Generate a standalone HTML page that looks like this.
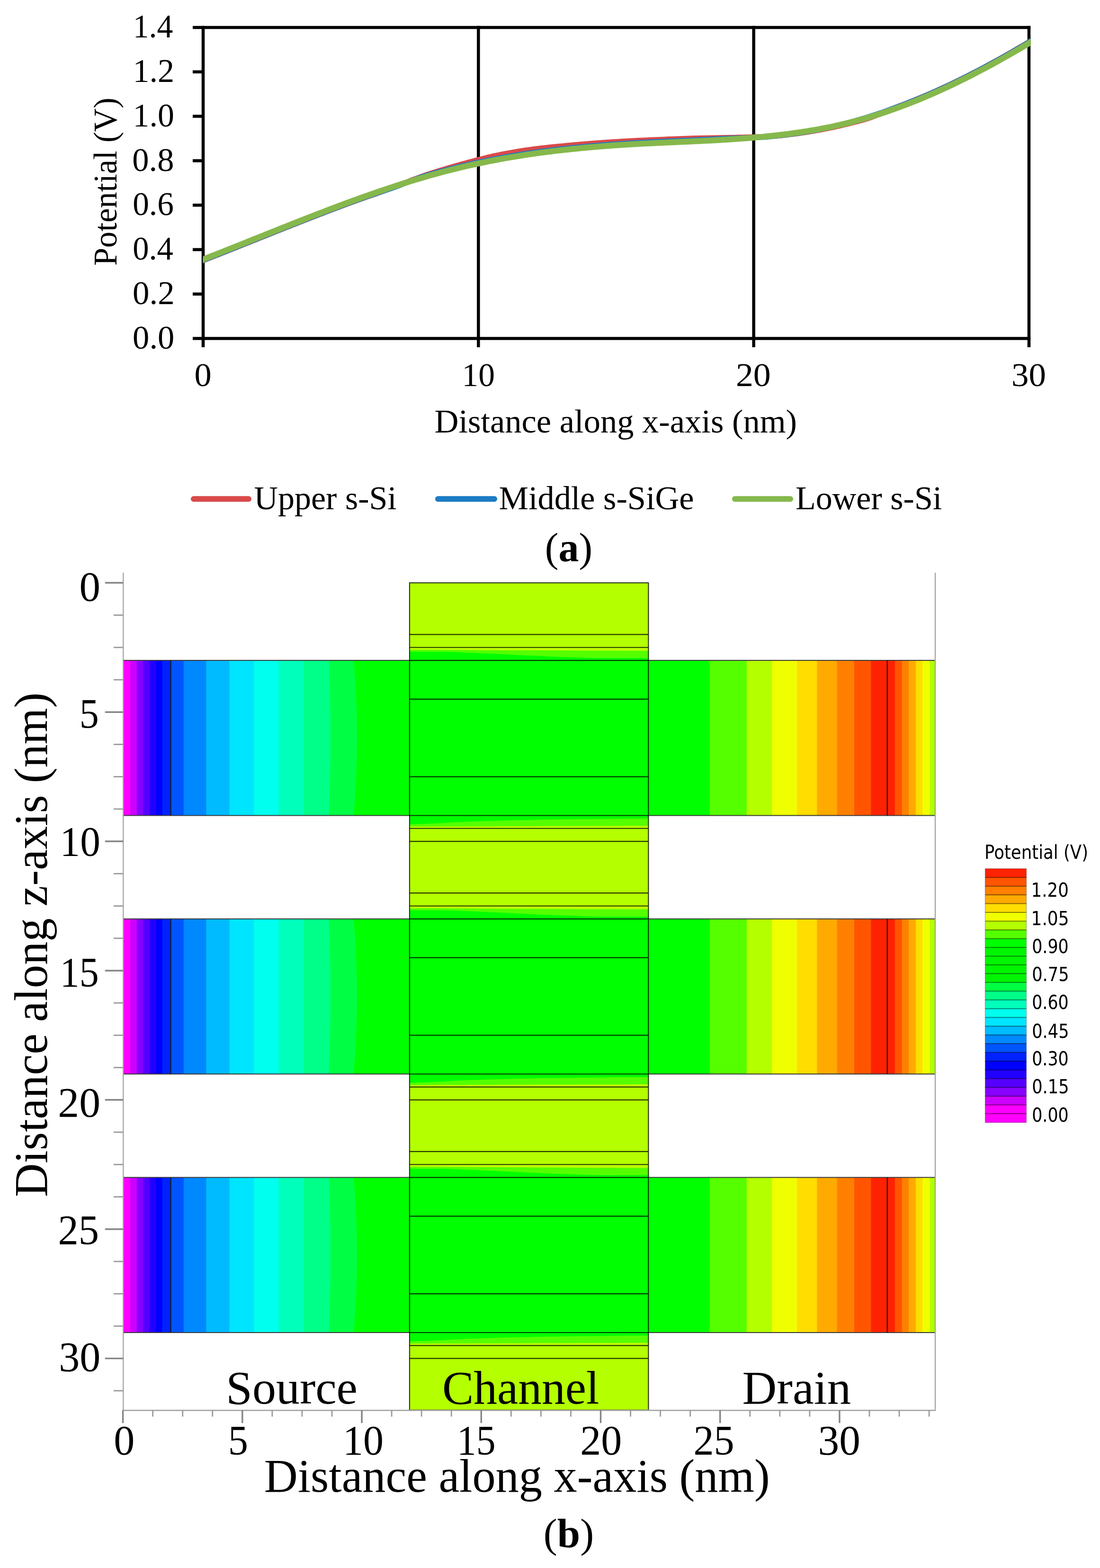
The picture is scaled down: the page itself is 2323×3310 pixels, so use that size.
<!DOCTYPE html>
<html><head><meta charset="utf-8"><title>Potential distribution</title>
<style>html,body{margin:0;padding:0;background:#fff;width:2323px;height:3310px;overflow:hidden;}svg{display:block;}</style>
</head><body>
<svg width="2323" height="3310" viewBox="0 0 2323 3310">
<rect width="2323" height="3310" fill="#fff"/>
<line x1="429" y1="54.65" x2="429" y2="733" stroke="#000" stroke-width="6.5" />
<line x1="1010.33" y1="54.65" x2="1010.33" y2="733" stroke="#000" stroke-width="6.5" />
<line x1="1591.67" y1="54.65" x2="1591.67" y2="733" stroke="#000" stroke-width="6.5" />
<line x1="2173" y1="54.65" x2="2173" y2="733" stroke="#000" stroke-width="6.5" />
<line x1="407" y1="57.9" x2="2176.25" y2="57.9" stroke="#000" stroke-width="6.5" />
<line x1="407" y1="714.5" x2="2176.25" y2="714.5" stroke="#000" stroke-width="6.5" />
<line x1="407" y1="620.7" x2="429" y2="620.7" stroke="#000" stroke-width="6.5" />
<line x1="407" y1="526.9" x2="429" y2="526.9" stroke="#000" stroke-width="6.5" />
<line x1="407" y1="433.1" x2="429" y2="433.1" stroke="#000" stroke-width="6.5" />
<line x1="407" y1="339.3" x2="429" y2="339.3" stroke="#000" stroke-width="6.5" />
<line x1="407" y1="245.5" x2="429" y2="245.5" stroke="#000" stroke-width="6.5" />
<line x1="407" y1="151.7" x2="429" y2="151.7" stroke="#000" stroke-width="6.5" />
<text x="280.11" y="735.8" font-size="69.5" font-family="'Liberation Serif', 'Times New Roman', serif" font-weight="normal" textLength="88.17" lengthAdjust="spacingAndGlyphs">0.0</text>
<text x="280.1" y="642" font-size="69.5" font-family="'Liberation Serif', 'Times New Roman', serif" font-weight="normal" textLength="88.61" lengthAdjust="spacingAndGlyphs">0.2</text>
<text x="280.19" y="548.2" font-size="69.5" font-family="'Liberation Serif', 'Times New Roman', serif" font-weight="normal" textLength="85.68" lengthAdjust="spacingAndGlyphs">0.4</text>
<text x="280.16" y="454.4" font-size="69.5" font-family="'Liberation Serif', 'Times New Roman', serif" font-weight="normal" textLength="86.71" lengthAdjust="spacingAndGlyphs">0.6</text>
<text x="279.31" y="360.6" font-size="69.5" font-family="'Liberation Serif', 'Times New Roman', serif" font-weight="normal" textLength="88.17" lengthAdjust="spacingAndGlyphs">0.8</text>
<text x="280.45" y="266.8" font-size="69.5" font-family="'Liberation Serif', 'Times New Roman', serif" font-weight="normal" textLength="87.41" lengthAdjust="spacingAndGlyphs">1.0</text>
<text x="280.44" y="173" font-size="69.5" font-family="'Liberation Serif', 'Times New Roman', serif" font-weight="normal" textLength="87.63" lengthAdjust="spacingAndGlyphs">1.2</text>
<text x="280.65" y="79.2" font-size="69.5" font-family="'Liberation Serif', 'Times New Roman', serif" font-weight="normal" textLength="84.61" lengthAdjust="spacingAndGlyphs">1.4</text>
<text x="410.54" y="815.2" font-size="69.5" font-family="'Liberation Serif', 'Times New Roman', serif" font-weight="normal" textLength="36.22" lengthAdjust="spacingAndGlyphs">0</text>
<text x="975.39" y="815.2" font-size="69.5" font-family="'Liberation Serif', 'Times New Roman', serif" font-weight="normal" textLength="69.56" lengthAdjust="spacingAndGlyphs">10</text>
<text x="1553.95" y="815.2" font-size="69.5" font-family="'Liberation Serif', 'Times New Roman', serif" font-weight="normal" textLength="73.86" lengthAdjust="spacingAndGlyphs">20</text>
<text x="2136.11" y="815.2" font-size="69.5" font-family="'Liberation Serif', 'Times New Roman', serif" font-weight="normal" textLength="72.86" lengthAdjust="spacingAndGlyphs">30</text>
<text x="917.47" y="913" font-size="70.5" font-family="'Liberation Serif', 'Times New Roman', serif" font-weight="normal" textLength="765.63" lengthAdjust="spacingAndGlyphs">Distance along x-axis (nm)</text>
<text transform="translate(246,560.97) rotate(-90)" x="0" y="0" font-size="69.5" font-family="'Liberation Serif', 'Times New Roman', serif" textLength="354.97" lengthAdjust="spacingAndGlyphs">Potential (V)</text>
<defs><clipPath id="pc"><rect x="428.5" y="0" width="1748.4" height="800"/></clipPath></defs>
<g fill="none" stroke-linejoin="round" stroke-linecap="butt" clip-path="url(#pc)">
<path d="M415,555.44 C417.17,554.6 423.5,552.16 428,550.41 C432.5,548.66 437.33,546.78 442,544.96 C446.67,543.13 451.33,541.3 456,539.46 C460.67,537.63 465.33,535.79 470,533.94 C474.67,532.1 479.33,530.25 484,528.39 C488.67,526.54 493.33,524.68 498,522.83 C502.67,520.97 507.33,519.11 512,517.24 C516.67,515.38 521.33,513.51 526,511.65 C530.67,509.78 535.33,507.91 540,506.05 C544.67,504.18 549.33,502.31 554,500.44 C558.67,498.58 563.33,496.71 568,494.85 C572.67,492.98 577.33,491.12 582,489.26 C586.67,487.39 591.33,485.53 596,483.68 C600.67,481.82 605.33,479.97 610,478.12 C614.67,476.27 619.33,474.42 624,472.58 C628.67,470.74 633.33,468.9 638,467.07 C642.67,465.24 647.33,463.42 652,461.6 C656.67,459.78 661.33,457.96 666,456.16 C670.67,454.35 675.33,452.55 680,450.76 C684.67,448.97 689.33,447.19 694,445.41 C698.67,443.64 703.33,441.87 708,440.11 C712.67,438.36 717.33,436.61 722,434.87 C726.67,433.14 731.33,431.41 736,429.69 C740.67,427.98 745.33,426.27 750,424.58 C754.67,422.89 759.33,421.21 764,419.54 C768.67,417.87 773.33,416.21 778,414.57 C782.67,412.93 787.33,411.31 792,409.69 C796.67,408.06 801.33,406.5 806,404.84 C810.67,403.17 815.33,401.45 820,399.68 C824.67,397.92 829.33,396.09 834,394.26 C838.67,392.44 843.33,390.56 848,388.71 C852.67,386.86 857.33,384.99 862,383.16 C866.67,381.33 871.33,379.5 876,377.74 C880.67,375.98 885.33,374.24 890,372.59 C894.67,370.93 899.33,369.36 904,367.81 C908.67,366.25 913.33,364.75 918,363.27 C922.67,361.78 927.33,360.34 932,358.91 C936.67,357.48 941.33,356.08 946,354.7 C950.67,353.32 955.33,351.95 960,350.61 C964.67,349.27 969.33,347.95 974,346.65 C978.67,345.36 983.33,344.09 988,342.84 C992.67,341.59 997.33,340.37 1002,339.16 C1006.67,337.95 1011.33,336.77 1016,335.59 C1020.67,334.41 1025.33,333.2 1030,332.06 C1034.67,330.93 1039.33,329.81 1044,328.79 C1048.67,327.77 1053.33,326.87 1058,325.95 C1062.67,325.04 1067.33,324.17 1072,323.31 C1076.67,322.46 1081.33,321.64 1086,320.84 C1090.67,320.05 1095.33,319.28 1100,318.55 C1104.67,317.82 1109.33,317.12 1114,316.45 C1118.67,315.79 1123.33,315.16 1128,314.55 C1132.67,313.95 1137.33,313.38 1142,312.82 C1146.67,312.27 1151.33,311.75 1156,311.24 C1160.67,310.73 1165.33,310.24 1170,309.77 C1174.67,309.29 1179.33,308.84 1184,308.39 C1188.67,307.95 1193.33,307.51 1198,307.09 C1202.67,306.66 1207.33,306.24 1212,305.82 C1216.67,305.41 1221.33,304.99 1226,304.59 C1230.67,304.18 1235.33,303.79 1240,303.41 C1244.67,303.03 1249.33,302.66 1254,302.3 C1258.67,301.94 1263.33,301.59 1268,301.25 C1272.67,300.92 1277.33,300.59 1282,300.27 C1286.67,299.96 1291.33,299.65 1296,299.36 C1300.67,299.06 1305.33,298.77 1310,298.5 C1314.67,298.22 1319.33,297.96 1324,297.71 C1328.67,297.45 1333.33,297.21 1338,296.97 C1342.67,296.73 1347.33,296.51 1352,296.29 C1356.67,296.06 1361.33,295.85 1366,295.64 C1370.67,295.42 1375.33,295.22 1380,295.02 C1384.67,294.81 1389.33,294.62 1394,294.43 C1398.67,294.23 1403.33,294.04 1408,293.86 C1412.67,293.68 1417.33,293.5 1422,293.32 C1426.67,293.14 1431.33,292.97 1436,292.8 C1440.67,292.63 1445.33,292.46 1450,292.29 C1454.67,292.13 1459.33,291.96 1464,291.81 C1468.67,291.67 1473.33,291.54 1478,291.43 C1482.67,291.31 1487.33,291.22 1492,291.13 C1496.67,291.03 1501.33,290.96 1506,290.88 C1510.67,290.81 1515.33,290.74 1520,290.66 C1524.67,290.59 1529.33,290.52 1534,290.44 C1538.67,290.36 1543.33,290.28 1548,290.19 C1552.67,290.09 1557.33,289.99 1562,289.87 C1566.67,289.75 1571.33,289.59 1576,289.45 C1580.67,289.31 1585.33,289.15 1590,289.02 C1594.67,288.88 1599.33,288.78 1604,288.64 C1608.67,288.5 1613.33,288.37 1618,288.18 C1622.67,287.99 1627.33,287.78 1632,287.49 C1636.67,287.2 1641.33,286.85 1646,286.43 C1650.67,286.01 1655.33,285.49 1660,284.97 C1664.67,284.44 1669.33,283.9 1674,283.31 C1678.67,282.72 1683.33,282.1 1688,281.44 C1692.67,280.78 1697.33,280.07 1702,279.34 C1706.67,278.6 1711.33,277.83 1716,277.03 C1720.67,276.23 1725.33,275.4 1730,274.55 C1734.67,273.69 1739.33,272.8 1744,271.88 C1748.67,270.97 1753.33,270.02 1758,269.03 C1762.67,268.05 1767.33,267.03 1772,265.98 C1776.67,264.93 1781.33,263.85 1786,262.73 C1790.67,261.61 1795.33,260.45 1800,259.26 C1804.67,258.07 1809.33,256.84 1814,255.57 C1818.67,254.3 1823.33,253.05 1828,251.65 C1832.67,250.24 1837.33,248.8 1842,247.15 C1846.67,245.49 1851.33,243.62 1856,241.73 C1860.67,239.84 1865.33,237.8 1870,235.82 C1874.67,233.83 1879.33,231.76 1884,229.82 C1888.67,227.88 1893.33,226 1898,224.18 C1902.67,222.35 1907.33,220.67 1912,218.88 C1916.67,217.08 1921.33,215.25 1926,213.39 C1930.67,211.52 1935.33,209.63 1940,207.7 C1944.67,205.77 1949.33,203.81 1954,201.82 C1958.67,199.83 1963.33,197.81 1968,195.76 C1972.67,193.71 1977.33,191.62 1982,189.51 C1986.67,187.4 1991.33,185.25 1996,183.08 C2000.67,180.91 2005.33,178.71 2010,176.48 C2014.67,174.25 2019.33,171.99 2024,169.71 C2028.67,167.43 2033.33,165.11 2038,162.77 C2042.67,160.43 2047.33,158.07 2052,155.68 C2056.67,153.28 2061.33,150.86 2066,148.42 C2070.67,145.98 2075.33,143.51 2080,141.02 C2084.67,138.52 2089.33,136 2094,133.46 C2098.67,130.92 2103.33,128.35 2108,125.76 C2112.67,123.18 2117.33,120.56 2122,117.93 C2126.67,115.29 2131.33,112.64 2136,109.96 C2140.67,107.28 2145.33,104.58 2150,101.86 C2154.67,99.14 2160.7,95.58 2164,93.63 C2167.3,91.69 2166.3,92.28 2169.8,90.19 C2173.3,88.09 2182.47,82.59 2185,81.06" stroke="#d94a4a" stroke-width="11"/>
<path d="M415,554.94 C417.17,554.1 423.5,551.66 428,549.91 C432.5,548.16 437.33,546.28 442,544.46 C446.67,542.63 451.33,540.8 456,538.96 C460.67,537.13 465.33,535.29 470,533.44 C474.67,531.6 479.33,529.75 484,527.89 C488.67,526.04 493.33,524.18 498,522.33 C502.67,520.47 507.33,518.61 512,516.74 C516.67,514.88 521.33,513.01 526,511.15 C530.67,509.28 535.33,507.41 540,505.55 C544.67,503.68 549.33,501.81 554,499.94 C558.67,498.08 563.33,496.21 568,494.35 C572.67,492.48 577.33,490.62 582,488.76 C586.67,486.89 591.33,485.03 596,483.18 C600.67,481.32 605.33,479.47 610,477.62 C614.67,475.77 619.33,473.92 624,472.08 C628.67,470.24 633.33,468.4 638,466.57 C642.67,464.74 647.33,462.92 652,461.1 C656.67,459.28 661.33,457.46 666,455.66 C670.67,453.85 675.33,452.05 680,450.26 C684.67,448.47 689.33,446.69 694,444.91 C698.67,443.14 703.33,441.37 708,439.61 C712.67,437.86 717.33,436.11 722,434.37 C726.67,432.64 731.33,430.91 736,429.19 C740.67,427.48 745.33,425.77 750,424.08 C754.67,422.39 759.33,420.71 764,419.04 C768.67,417.37 773.33,415.71 778,414.07 C782.67,412.43 787.33,410.8 792,409.19 C796.67,407.57 801.33,405.97 806,404.38 C810.67,402.8 815.33,401.24 820,399.68 C824.67,398.11 829.33,396.66 834,395.02 C838.67,393.37 843.33,391.62 848,389.81 C852.67,388 857.33,386.06 862,384.18 C866.67,382.31 871.33,380.37 876,378.57 C880.67,376.78 885.33,374.99 890,373.41 C894.67,371.83 899.33,370.46 904,369.08 C908.67,367.7 913.33,366.42 918,365.12 C922.67,363.83 927.33,362.55 932,361.3 C936.67,360.04 941.33,358.81 946,357.61 C950.67,356.4 955.33,355.21 960,354.05 C964.67,352.89 969.33,351.76 974,350.64 C978.67,349.53 983.33,348.44 988,347.37 C992.67,346.31 997.33,345.26 1002,344.24 C1006.67,343.22 1011.33,342.22 1016,341.24 C1020.67,340.26 1025.33,339.31 1030,338.37 C1034.67,337.44 1039.33,336.53 1044,335.63 C1048.67,334.74 1053.33,333.87 1058,333.02 C1062.67,332.17 1067.33,331.34 1072,330.52 C1076.67,329.71 1081.33,328.92 1086,328.15 C1090.67,327.37 1095.33,326.62 1100,325.88 C1104.67,325.15 1109.33,324.43 1114,323.73 C1118.67,323.03 1123.33,322.35 1128,321.69 C1132.67,321.02 1137.33,320.38 1142,319.75 C1146.67,319.12 1151.33,318.5 1156,317.91 C1160.67,317.31 1165.33,316.73 1170,316.16 C1174.67,315.6 1179.33,315.05 1184,314.51 C1188.67,313.98 1193.33,313.46 1198,312.96 C1202.67,312.45 1207.33,311.96 1212,311.49 C1216.67,311.01 1221.33,310.55 1226,310.1 C1230.67,309.65 1235.33,309.22 1240,308.8 C1244.67,308.37 1249.33,307.97 1254,307.57 C1258.67,307.17 1263.33,306.79 1268,306.42 C1272.67,306.04 1277.33,305.68 1282,305.33 C1286.67,304.98 1291.33,304.65 1296,304.32 C1300.67,303.99 1305.33,303.67 1310,303.37 C1314.67,303.06 1319.33,302.76 1324,302.48 C1328.67,302.19 1333.33,301.91 1338,301.64 C1342.67,301.38 1347.33,301.12 1352,300.86 C1356.67,300.61 1361.33,300.37 1366,300.13 C1370.67,299.89 1375.33,299.66 1380,299.44 C1384.67,299.21 1389.33,298.99 1394,298.77 C1398.67,298.55 1403.33,298.34 1408,298.13 C1412.67,297.92 1417.33,297.71 1422,297.5 C1426.67,297.29 1431.33,297.08 1436,296.87 C1440.67,296.66 1445.33,296.45 1450,296.24 C1454.67,296.03 1459.33,295.82 1464,295.6 C1468.67,295.38 1473.33,295.16 1478,294.93 C1482.67,294.71 1487.33,294.47 1492,294.24 C1496.67,294.01 1501.33,293.75 1506,293.52 C1510.67,293.3 1515.33,293.09 1520,292.89 C1524.67,292.69 1529.33,292.51 1534,292.33 C1538.67,292.15 1543.33,291.98 1548,291.8 C1552.67,291.62 1557.33,291.45 1562,291.26 C1566.67,291.07 1571.33,290.84 1576,290.67 C1580.67,290.51 1585.33,290.37 1590,290.26 C1594.67,290.16 1599.33,290.21 1604,290.05 C1608.67,289.89 1613.33,289.69 1618,289.32 C1622.67,288.96 1627.33,288.39 1632,287.89 C1636.67,287.38 1641.33,286.86 1646,286.31 C1650.67,285.77 1655.33,285.2 1660,284.61 C1664.67,284.02 1669.33,283.41 1674,282.77 C1678.67,282.13 1683.33,281.47 1688,280.78 C1692.67,280.09 1697.33,279.4 1702,278.63 C1706.67,277.86 1711.33,277.04 1716,276.16 C1720.67,275.28 1725.33,274.32 1730,273.34 C1734.67,272.36 1739.33,271.32 1744,270.28 C1748.67,269.23 1753.33,268.16 1758,267.07 C1762.67,265.99 1767.33,264.9 1772,263.76 C1776.67,262.63 1781.33,261.46 1786,260.26 C1790.67,259.06 1795.33,257.83 1800,256.56 C1804.67,255.29 1809.33,253.99 1814,252.64 C1818.67,251.3 1823.33,249.92 1828,248.5 C1832.67,247.08 1837.33,245.62 1842,244.12 C1846.67,242.62 1851.33,241.09 1856,239.5 C1860.67,237.92 1865.33,236.28 1870,234.62 C1874.67,232.96 1879.33,231.25 1884,229.54 C1888.67,227.83 1893.33,226.1 1898,224.36 C1902.67,222.62 1907.33,220.89 1912,219.1 C1916.67,217.31 1921.33,215.49 1926,213.64 C1930.67,211.78 1935.33,209.9 1940,207.98 C1944.67,206.06 1949.33,204.11 1954,202.12 C1958.67,200.14 1963.33,198.13 1968,196.08 C1972.67,194.04 1977.33,191.96 1982,189.85 C1986.67,187.75 1991.33,185.61 1996,183.44 C2000.67,181.28 2005.33,179.08 2010,176.86 C2014.67,174.64 2019.33,172.38 2024,170.11 C2028.67,167.83 2033.33,165.52 2038,163.18 C2042.67,160.85 2047.33,158.49 2052,156.1 C2056.67,153.71 2061.33,151.3 2066,148.86 C2070.67,146.42 2075.33,143.95 2080,141.46 C2084.67,138.97 2089.33,136.46 2094,133.92 C2098.67,131.38 2103.33,128.81 2108,126.23 C2112.67,123.64 2117.33,121.03 2122,118.4 C2126.67,115.77 2131.33,113.11 2136,110.44 C2140.67,107.76 2145.33,105.06 2150,102.34 C2154.67,99.62 2160.7,96.06 2164,94.12 C2167.3,92.17 2166.3,92.77 2169.8,90.68 C2173.3,88.58 2182.47,83.08 2185,81.56" stroke="#1b7cc4" stroke-width="11"/>
<path d="M415,552.94 C417.17,552.1 423.5,549.66 428,547.91 C432.5,546.16 437.33,544.28 442,542.46 C446.67,540.63 451.33,538.8 456,536.96 C460.67,535.13 465.33,533.29 470,531.44 C474.67,529.6 479.33,527.75 484,525.89 C488.67,524.04 493.33,522.18 498,520.33 C502.67,518.47 507.33,516.61 512,514.74 C516.67,512.88 521.33,511.01 526,509.15 C530.67,507.28 535.33,505.41 540,503.55 C544.67,501.68 549.33,499.81 554,497.94 C558.67,496.08 563.33,494.21 568,492.35 C572.67,490.48 577.33,488.62 582,486.76 C586.67,484.89 591.33,483.03 596,481.18 C600.67,479.32 605.33,477.47 610,475.62 C614.67,473.77 619.33,471.92 624,470.08 C628.67,468.24 633.33,466.4 638,464.57 C642.67,462.74 647.33,460.92 652,459.1 C656.67,457.28 661.33,455.46 666,453.66 C670.67,451.85 675.33,450.05 680,448.26 C684.67,446.47 689.33,444.69 694,442.91 C698.67,441.14 703.33,439.37 708,437.61 C712.67,435.86 717.33,434.11 722,432.37 C726.67,430.64 731.33,428.91 736,427.19 C740.67,425.48 745.33,423.77 750,422.08 C754.67,420.39 759.33,418.71 764,417.04 C768.67,415.37 773.33,413.71 778,412.07 C782.67,410.43 787.33,408.8 792,407.19 C796.67,405.57 801.33,403.97 806,402.38 C810.67,400.8 815.33,399.23 820,397.68 C824.67,396.12 829.33,394.58 834,393.06 C838.67,391.54 843.33,390.03 848,388.55 C852.67,387.06 857.33,385.59 862,384.14 C866.67,382.69 871.33,381.25 876,379.84 C880.67,378.42 885.33,377.03 890,375.65 C894.67,374.28 899.33,372.92 904,371.59 C908.67,370.25 913.33,368.94 918,367.64 C922.67,366.35 927.33,365.08 932,363.83 C936.67,362.58 941.33,361.36 946,360.15 C950.67,358.95 955.33,357.77 960,356.61 C964.67,355.46 969.33,354.33 974,353.22 C978.67,352.11 983.33,351.02 988,349.96 C992.67,348.9 997.33,347.86 1002,346.84 C1006.67,345.82 1011.33,344.82 1016,343.85 C1020.67,342.88 1025.33,341.93 1030,340.99 C1034.67,340.06 1039.33,339.15 1044,338.26 C1048.67,337.37 1053.33,336.51 1058,335.66 C1062.67,334.81 1067.33,333.98 1072,333.17 C1076.67,332.36 1081.33,331.57 1086,330.8 C1090.67,330.03 1095.33,329.28 1100,328.55 C1104.67,327.81 1109.33,327.1 1114,326.4 C1118.67,325.71 1123.33,325.03 1128,324.37 C1132.67,323.7 1137.33,323.06 1142,322.43 C1146.67,321.8 1151.33,321.19 1156,320.6 C1160.67,320 1165.33,319.42 1170,318.86 C1174.67,318.3 1179.33,317.75 1184,317.22 C1188.67,316.69 1193.33,316.17 1198,315.67 C1202.67,315.16 1207.33,314.67 1212,314.2 C1216.67,313.73 1221.33,313.27 1226,312.82 C1230.67,312.37 1235.33,311.94 1240,311.52 C1244.67,311.1 1249.33,310.69 1254,310.29 C1258.67,309.9 1263.33,309.52 1268,309.14 C1272.67,308.77 1277.33,308.41 1282,308.06 C1286.67,307.72 1291.33,307.38 1296,307.05 C1300.67,306.72 1305.33,306.41 1310,306.1 C1314.67,305.8 1319.33,305.5 1324,305.22 C1328.67,304.93 1333.33,304.65 1338,304.38 C1342.67,304.12 1347.33,303.86 1352,303.61 C1356.67,303.36 1361.33,303.11 1366,302.88 C1370.67,302.64 1375.33,302.41 1380,302.18 C1384.67,301.96 1389.33,301.74 1394,301.52 C1398.67,301.3 1403.33,301.09 1408,300.88 C1412.67,300.66 1417.33,300.46 1422,300.25 C1426.67,300.04 1431.33,299.83 1436,299.62 C1440.67,299.41 1445.33,299.2 1450,298.99 C1454.67,298.78 1459.33,298.57 1464,298.35 C1468.67,298.13 1473.33,297.91 1478,297.68 C1482.67,297.46 1487.33,297.23 1492,296.99 C1496.67,296.75 1501.33,296.51 1506,296.26 C1510.67,296.01 1515.33,295.75 1520,295.48 C1524.67,295.21 1529.33,294.94 1534,294.65 C1538.67,294.36 1543.33,294.06 1548,293.75 C1552.67,293.44 1557.33,293.12 1562,292.79 C1566.67,292.45 1571.33,292.1 1576,291.74 C1580.67,291.38 1585.33,291 1590,290.61 C1594.67,290.21 1599.33,289.8 1604,289.37 C1608.67,288.95 1613.33,288.5 1618,288.04 C1622.67,287.57 1627.33,287.09 1632,286.59 C1636.67,286.08 1641.33,285.56 1646,285.01 C1650.67,284.47 1655.33,283.9 1660,283.31 C1664.67,282.72 1669.33,282.11 1674,281.47 C1678.67,280.83 1683.33,280.17 1688,279.48 C1692.67,278.79 1697.33,278.08 1702,277.34 C1706.67,276.59 1711.33,275.83 1716,275.03 C1720.67,274.23 1725.33,273.4 1730,272.55 C1734.67,271.69 1739.33,270.8 1744,269.88 C1748.67,268.97 1753.33,268.02 1758,267.03 C1762.67,266.05 1767.33,265.03 1772,263.98 C1776.67,262.93 1781.33,261.85 1786,260.73 C1790.67,259.61 1795.33,258.45 1800,257.26 C1804.67,256.07 1809.33,254.84 1814,253.57 C1818.67,252.3 1823.33,250.99 1828,249.65 C1832.67,248.3 1837.33,246.91 1842,245.49 C1846.67,244.07 1851.33,242.61 1856,241.11 C1860.67,239.61 1865.33,238.08 1870,236.51 C1874.67,234.94 1879.33,233.33 1884,231.69 C1888.67,230.05 1893.33,228.37 1898,226.66 C1902.67,224.95 1907.33,223.2 1912,221.42 C1916.67,219.64 1921.33,217.82 1926,215.97 C1930.67,214.13 1935.33,212.24 1940,210.33 C1944.67,208.42 1949.33,206.47 1954,204.49 C1958.67,202.51 1963.33,200.5 1968,198.46 C1972.67,196.42 1977.33,194.35 1982,192.25 C1986.67,190.15 1991.33,188.02 1996,185.85 C2000.67,183.69 2005.33,181.5 2010,179.28 C2014.67,177.06 2019.33,174.81 2024,172.54 C2028.67,170.26 2033.33,167.96 2038,165.62 C2042.67,163.29 2047.33,160.93 2052,158.55 C2056.67,156.16 2061.33,153.75 2066,151.32 C2070.67,148.88 2075.33,146.41 2080,143.93 C2084.67,141.44 2089.33,138.93 2094,136.39 C2098.67,133.85 2103.33,131.29 2108,128.71 C2112.67,126.12 2117.33,123.51 2122,120.88 C2126.67,118.25 2131.33,115.6 2136,112.92 C2140.67,110.25 2145.33,107.55 2150,104.83 C2154.67,102.11 2160.7,98.55 2164,96.61 C2167.3,94.67 2166.3,95.26 2169.8,93.17 C2173.3,91.08 2182.47,85.57 2185,84.05" stroke="#86b84c" stroke-width="12.5"/>
</g>
<g stroke-linecap="round">
<line x1="409" y1="1053.3" x2="525" y2="1053.3" stroke="#d94a4a" stroke-width="12" />
<line x1="925" y1="1053.3" x2="1044" y2="1053.3" stroke="#1b7cc4" stroke-width="12" />
<line x1="1552" y1="1053.3" x2="1669" y2="1053.3" stroke="#86b84c" stroke-width="12" />
</g>
<text x="536.53" y="1074.5" font-size="69.5" font-family="'Liberation Serif', 'Times New Roman', serif" font-weight="normal" textLength="301.3" lengthAdjust="spacingAndGlyphs">Upper s-Si</text>
<text x="1053.48" y="1074.5" font-size="69.5" font-family="'Liberation Serif', 'Times New Roman', serif" font-weight="normal" textLength="411.96" lengthAdjust="spacingAndGlyphs">Middle s-SiGe</text>
<text x="1679.98" y="1074.5" font-size="69.5" font-family="'Liberation Serif', 'Times New Roman', serif" font-weight="normal" textLength="309.35" lengthAdjust="spacingAndGlyphs">Lower s-Si</text>
<text x="1201" y="1185" font-size="86" text-anchor="middle" font-family="'Liberation Serif', 'Times New Roman', serif">(<tspan font-weight="bold">a</tspan>)</text>
<rect x="260" y="1394.03" width="605.6" height="327.46" fill="#00ff00" />
<path d="M260,1394.03 L747,1394.03 Q761,1557.76 747,1721.48 L260,1721.48 Z" fill="#00ff44"/>
<path d="M260,1394.03 L694.6,1394.03 Q701.6,1557.76 694.6,1721.48 L260,1721.48 Z" fill="#00ff88"/>
<rect x="260" y="1394.03" width="382" height="327.46" fill="#00ffbb" />
<rect x="260" y="1394.03" width="328.6" height="327.46" fill="#00ffee" />
<rect x="260" y="1394.03" width="276.3" height="327.46" fill="#00e5ff" />
<rect x="260" y="1394.03" width="224.6" height="327.46" fill="#00bbff" />
<rect x="260" y="1394.03" width="175.4" height="327.46" fill="#0088ff" />
<rect x="260" y="1394.03" width="127.8" height="327.46" fill="#0055ff" />
<rect x="260" y="1394.03" width="101.3" height="327.46" fill="#0022ff" />
<rect x="260" y="1394.03" width="82.6" height="327.46" fill="#0000ff" />
<rect x="260" y="1394.03" width="68.5" height="327.46" fill="#2200ff" />
<rect x="260" y="1394.03" width="55.2" height="327.46" fill="#5500ff" />
<rect x="260" y="1394.03" width="41.8" height="327.46" fill="#8800ff" />
<rect x="260" y="1394.03" width="28.9" height="327.46" fill="#cc00ff" />
<rect x="260" y="1394.03" width="14.8" height="327.46" fill="#ff00ff" />
<rect x="1369" y="1394.03" width="130.1" height="327.46" fill="#00ff00" />
<rect x="1498.5" y="1394.03" width="78.8" height="327.46" fill="#55ff00" />
<rect x="1576.7" y="1394.03" width="54.3" height="327.46" fill="#b4ff00" />
<rect x="1630.4" y="1394.03" width="53.1" height="327.46" fill="#f0ff00" />
<rect x="1682.9" y="1394.03" width="42.9" height="327.46" fill="#ffdd00" />
<rect x="1725.2" y="1394.03" width="43" height="327.46" fill="#ffaa00" />
<rect x="1767.6" y="1394.03" width="36.9" height="327.46" fill="#ff8000" />
<rect x="1803.9" y="1394.03" width="36.1" height="327.46" fill="#ff5500" />
<rect x="1839.4" y="1394.03" width="35.7" height="327.46" fill="#ff2200" />
<rect x="1874.5" y="1394.03" width="15.9" height="327.46" fill="#ff2200" />
<rect x="1889.8" y="1394.03" width="15.6" height="327.46" fill="#ff5500" />
<rect x="1904.8" y="1394.03" width="14.7" height="327.46" fill="#ff8000" />
<rect x="1918.9" y="1394.03" width="15.5" height="327.46" fill="#ffaa00" />
<rect x="1933.8" y="1394.03" width="14.8" height="327.46" fill="#ffdd00" />
<rect x="1948" y="1394.03" width="15.9" height="327.46" fill="#f0ff00" />
<rect x="1963.3" y="1394.03" width="12.7" height="327.46" fill="#b4ff00" />
<rect x="260" y="1939.79" width="605.6" height="327.46" fill="#00ff00" />
<path d="M260,1939.79 L747,1939.79 Q761,2103.52 747,2267.24 L260,2267.24 Z" fill="#00ff44"/>
<path d="M260,1939.79 L694.6,1939.79 Q701.6,2103.52 694.6,2267.24 L260,2267.24 Z" fill="#00ff88"/>
<rect x="260" y="1939.79" width="382" height="327.46" fill="#00ffbb" />
<rect x="260" y="1939.79" width="328.6" height="327.46" fill="#00ffee" />
<rect x="260" y="1939.79" width="276.3" height="327.46" fill="#00e5ff" />
<rect x="260" y="1939.79" width="224.6" height="327.46" fill="#00bbff" />
<rect x="260" y="1939.79" width="175.4" height="327.46" fill="#0088ff" />
<rect x="260" y="1939.79" width="127.8" height="327.46" fill="#0055ff" />
<rect x="260" y="1939.79" width="101.3" height="327.46" fill="#0022ff" />
<rect x="260" y="1939.79" width="82.6" height="327.46" fill="#0000ff" />
<rect x="260" y="1939.79" width="68.5" height="327.46" fill="#2200ff" />
<rect x="260" y="1939.79" width="55.2" height="327.46" fill="#5500ff" />
<rect x="260" y="1939.79" width="41.8" height="327.46" fill="#8800ff" />
<rect x="260" y="1939.79" width="28.9" height="327.46" fill="#cc00ff" />
<rect x="260" y="1939.79" width="14.8" height="327.46" fill="#ff00ff" />
<rect x="1369" y="1939.79" width="130.1" height="327.46" fill="#00ff00" />
<rect x="1498.5" y="1939.79" width="78.8" height="327.46" fill="#55ff00" />
<rect x="1576.7" y="1939.79" width="54.3" height="327.46" fill="#b4ff00" />
<rect x="1630.4" y="1939.79" width="53.1" height="327.46" fill="#f0ff00" />
<rect x="1682.9" y="1939.79" width="42.9" height="327.46" fill="#ffdd00" />
<rect x="1725.2" y="1939.79" width="43" height="327.46" fill="#ffaa00" />
<rect x="1767.6" y="1939.79" width="36.9" height="327.46" fill="#ff8000" />
<rect x="1803.9" y="1939.79" width="36.1" height="327.46" fill="#ff5500" />
<rect x="1839.4" y="1939.79" width="35.7" height="327.46" fill="#ff2200" />
<rect x="1874.5" y="1939.79" width="15.9" height="327.46" fill="#ff2200" />
<rect x="1889.8" y="1939.79" width="15.6" height="327.46" fill="#ff5500" />
<rect x="1904.8" y="1939.79" width="14.7" height="327.46" fill="#ff8000" />
<rect x="1918.9" y="1939.79" width="15.5" height="327.46" fill="#ffaa00" />
<rect x="1933.8" y="1939.79" width="14.8" height="327.46" fill="#ffdd00" />
<rect x="1948" y="1939.79" width="15.9" height="327.46" fill="#f0ff00" />
<rect x="1963.3" y="1939.79" width="12.7" height="327.46" fill="#b4ff00" />
<rect x="260" y="2485.55" width="605.6" height="327.46" fill="#00ff00" />
<path d="M260,2485.55 L747,2485.55 Q761,2649.28 747,2813 L260,2813 Z" fill="#00ff44"/>
<path d="M260,2485.55 L694.6,2485.55 Q701.6,2649.28 694.6,2813 L260,2813 Z" fill="#00ff88"/>
<rect x="260" y="2485.55" width="382" height="327.46" fill="#00ffbb" />
<rect x="260" y="2485.55" width="328.6" height="327.46" fill="#00ffee" />
<rect x="260" y="2485.55" width="276.3" height="327.46" fill="#00e5ff" />
<rect x="260" y="2485.55" width="224.6" height="327.46" fill="#00bbff" />
<rect x="260" y="2485.55" width="175.4" height="327.46" fill="#0088ff" />
<rect x="260" y="2485.55" width="127.8" height="327.46" fill="#0055ff" />
<rect x="260" y="2485.55" width="101.3" height="327.46" fill="#0022ff" />
<rect x="260" y="2485.55" width="82.6" height="327.46" fill="#0000ff" />
<rect x="260" y="2485.55" width="68.5" height="327.46" fill="#2200ff" />
<rect x="260" y="2485.55" width="55.2" height="327.46" fill="#5500ff" />
<rect x="260" y="2485.55" width="41.8" height="327.46" fill="#8800ff" />
<rect x="260" y="2485.55" width="28.9" height="327.46" fill="#cc00ff" />
<rect x="260" y="2485.55" width="14.8" height="327.46" fill="#ff00ff" />
<rect x="1369" y="2485.55" width="130.1" height="327.46" fill="#00ff00" />
<rect x="1498.5" y="2485.55" width="78.8" height="327.46" fill="#55ff00" />
<rect x="1576.7" y="2485.55" width="54.3" height="327.46" fill="#b4ff00" />
<rect x="1630.4" y="2485.55" width="53.1" height="327.46" fill="#f0ff00" />
<rect x="1682.9" y="2485.55" width="42.9" height="327.46" fill="#ffdd00" />
<rect x="1725.2" y="2485.55" width="43" height="327.46" fill="#ffaa00" />
<rect x="1767.6" y="2485.55" width="36.9" height="327.46" fill="#ff8000" />
<rect x="1803.9" y="2485.55" width="36.1" height="327.46" fill="#ff5500" />
<rect x="1839.4" y="2485.55" width="35.7" height="327.46" fill="#ff2200" />
<rect x="1874.5" y="2485.55" width="15.9" height="327.46" fill="#ff2200" />
<rect x="1889.8" y="2485.55" width="15.6" height="327.46" fill="#ff5500" />
<rect x="1904.8" y="2485.55" width="14.7" height="327.46" fill="#ff8000" />
<rect x="1918.9" y="2485.55" width="15.5" height="327.46" fill="#ffaa00" />
<rect x="1933.8" y="2485.55" width="14.8" height="327.46" fill="#ffdd00" />
<rect x="1948" y="2485.55" width="15.9" height="327.46" fill="#f0ff00" />
<rect x="1963.3" y="2485.55" width="12.7" height="327.46" fill="#b4ff00" />
<rect x="864.94" y="1230.3" width="504.45" height="1746.43" fill="#b4ff00" />
<rect x="864.94" y="1394.03" width="504.45" height="327.46" fill="#00ff00" />
<rect x="864.94" y="1366.74" width="504.45" height="27.29" fill="#00ff00" />
<path d="M864.94,1366.74 L1369.39,1366.74 L1369.39,1389.23 L1264.94,1389.23 C1124.94,1386.03 1024.94,1378.03 934.94,1375.63 L864.94,1375.63 Z" fill="#55ff00"/>
<path d="M864.94,1366.74 L1369.39,1366.74 L1369.39,1373.74 C1164.94,1373.24 984.94,1372.24 864.94,1371.74 Z" fill="#bfff00"/>
<rect x="864.94" y="1721.48" width="504.45" height="27.29" fill="#00ff00" />
<path d="M864.94,1748.77 L1369.39,1748.77 L1369.39,1727.98 C1194.94,1728.98 1064.94,1730.98 964.94,1735.48 C924.94,1737.98 894.94,1739.48 864.94,1739.98 Z" fill="#55ff00"/>
<path d="M864.94,1748.77 L1369.39,1748.77 L1369.39,1743.27 C1164.94,1743.77 984.94,1744.27 864.94,1744.77 Z" fill="#bfff00"/>
<rect x="864.94" y="1939.79" width="504.45" height="327.46" fill="#00ff00" />
<rect x="864.94" y="1912.5" width="504.45" height="27.29" fill="#00ff00" />
<path d="M864.94,1912.5 L1369.39,1912.5 L1369.39,1934.99 L1264.94,1934.99 C1124.94,1931.79 1024.94,1923.79 934.94,1921.39 L864.94,1921.39 Z" fill="#55ff00"/>
<path d="M864.94,1912.5 L1369.39,1912.5 L1369.39,1919.5 C1164.94,1919 984.94,1918 864.94,1917.5 Z" fill="#bfff00"/>
<rect x="864.94" y="2267.24" width="504.45" height="27.29" fill="#00ff00" />
<path d="M864.94,2294.53 L1369.39,2294.53 L1369.39,2273.74 C1194.94,2274.74 1064.94,2276.74 964.94,2281.24 C924.94,2283.74 894.94,2285.24 864.94,2285.74 Z" fill="#55ff00"/>
<path d="M864.94,2294.53 L1369.39,2294.53 L1369.39,2289.03 C1164.94,2289.53 984.94,2290.03 864.94,2290.53 Z" fill="#bfff00"/>
<rect x="864.94" y="2485.55" width="504.45" height="327.46" fill="#00ff00" />
<rect x="864.94" y="2458.26" width="504.45" height="27.29" fill="#00ff00" />
<path d="M864.94,2458.26 L1369.39,2458.26 L1369.39,2480.75 L1264.94,2480.75 C1124.94,2477.55 1024.94,2469.55 934.94,2467.15 L864.94,2467.15 Z" fill="#55ff00"/>
<path d="M864.94,2458.26 L1369.39,2458.26 L1369.39,2465.26 C1164.94,2464.76 984.94,2463.76 864.94,2463.26 Z" fill="#bfff00"/>
<rect x="864.94" y="2813" width="504.45" height="27.29" fill="#00ff00" />
<path d="M864.94,2840.29 L1369.39,2840.29 L1369.39,2819.5 C1194.94,2820.5 1064.94,2822.5 964.94,2827 C924.94,2829.5 894.94,2831 864.94,2831.5 Z" fill="#55ff00"/>
<path d="M864.94,2840.29 L1369.39,2840.29 L1369.39,2834.79 C1164.94,2835.29 984.94,2835.79 864.94,2836.29 Z" fill="#bfff00"/>
<line x1="864.94" y1="1339.45" x2="1369.39" y2="1339.45" stroke="rgba(0,0,0,0.78)" stroke-width="2.2" />
<line x1="864.94" y1="1366.74" x2="1369.39" y2="1366.74" stroke="rgba(0,0,0,0.78)" stroke-width="2.2" />
<line x1="864.94" y1="1394.03" x2="1369.39" y2="1394.03" stroke="rgba(0,0,0,0.78)" stroke-width="2.2" />
<line x1="864.94" y1="1475.89" x2="1369.39" y2="1475.89" stroke="rgba(0,0,0,0.78)" stroke-width="2.2" />
<line x1="864.94" y1="1639.62" x2="1369.39" y2="1639.62" stroke="rgba(0,0,0,0.78)" stroke-width="2.2" />
<line x1="864.94" y1="1721.48" x2="1369.39" y2="1721.48" stroke="rgba(0,0,0,0.78)" stroke-width="2.2" />
<line x1="864.94" y1="1748.77" x2="1369.39" y2="1748.77" stroke="rgba(0,0,0,0.78)" stroke-width="2.2" />
<line x1="864.94" y1="1776.06" x2="1369.39" y2="1776.06" stroke="rgba(0,0,0,0.78)" stroke-width="2.2" />
<line x1="864.94" y1="1885.21" x2="1369.39" y2="1885.21" stroke="rgba(0,0,0,0.78)" stroke-width="2.2" />
<line x1="864.94" y1="1912.5" x2="1369.39" y2="1912.5" stroke="rgba(0,0,0,0.78)" stroke-width="2.2" />
<line x1="864.94" y1="1939.79" x2="1369.39" y2="1939.79" stroke="rgba(0,0,0,0.78)" stroke-width="2.2" />
<line x1="864.94" y1="2021.65" x2="1369.39" y2="2021.65" stroke="rgba(0,0,0,0.78)" stroke-width="2.2" />
<line x1="864.94" y1="2185.38" x2="1369.39" y2="2185.38" stroke="rgba(0,0,0,0.78)" stroke-width="2.2" />
<line x1="864.94" y1="2267.24" x2="1369.39" y2="2267.24" stroke="rgba(0,0,0,0.78)" stroke-width="2.2" />
<line x1="864.94" y1="2294.53" x2="1369.39" y2="2294.53" stroke="rgba(0,0,0,0.78)" stroke-width="2.2" />
<line x1="864.94" y1="2321.82" x2="1369.39" y2="2321.82" stroke="rgba(0,0,0,0.78)" stroke-width="2.2" />
<line x1="864.94" y1="2430.97" x2="1369.39" y2="2430.97" stroke="rgba(0,0,0,0.78)" stroke-width="2.2" />
<line x1="864.94" y1="2458.26" x2="1369.39" y2="2458.26" stroke="rgba(0,0,0,0.78)" stroke-width="2.2" />
<line x1="864.94" y1="2485.55" x2="1369.39" y2="2485.55" stroke="rgba(0,0,0,0.78)" stroke-width="2.2" />
<line x1="864.94" y1="2567.41" x2="1369.39" y2="2567.41" stroke="rgba(0,0,0,0.78)" stroke-width="2.2" />
<line x1="864.94" y1="2731.14" x2="1369.39" y2="2731.14" stroke="rgba(0,0,0,0.78)" stroke-width="2.2" />
<line x1="864.94" y1="2813" x2="1369.39" y2="2813" stroke="rgba(0,0,0,0.78)" stroke-width="2.2" />
<line x1="864.94" y1="2840.29" x2="1369.39" y2="2840.29" stroke="rgba(0,0,0,0.78)" stroke-width="2.2" />
<line x1="864.94" y1="2867.58" x2="1369.39" y2="2867.58" stroke="rgba(0,0,0,0.78)" stroke-width="2.2" />
<line x1="259.6" y1="1394.03" x2="864.94" y2="1394.03" stroke="#3a3a3a" stroke-width="2" />
<line x1="1369.39" y1="1394.03" x2="1974.73" y2="1394.03" stroke="#3a3a3a" stroke-width="2" />
<line x1="259.6" y1="1721.48" x2="864.94" y2="1721.48" stroke="#3a3a3a" stroke-width="2" />
<line x1="1369.39" y1="1721.48" x2="1974.73" y2="1721.48" stroke="#3a3a3a" stroke-width="2" />
<line x1="360.49" y1="1394.03" x2="360.49" y2="1721.48" stroke="#102040" stroke-width="2.6" />
<line x1="1873.84" y1="1394.03" x2="1873.84" y2="1721.48" stroke="#401010" stroke-width="2.6" />
<line x1="259.6" y1="1939.79" x2="864.94" y2="1939.79" stroke="#3a3a3a" stroke-width="2" />
<line x1="1369.39" y1="1939.79" x2="1974.73" y2="1939.79" stroke="#3a3a3a" stroke-width="2" />
<line x1="259.6" y1="2267.24" x2="864.94" y2="2267.24" stroke="#3a3a3a" stroke-width="2" />
<line x1="1369.39" y1="2267.24" x2="1974.73" y2="2267.24" stroke="#3a3a3a" stroke-width="2" />
<line x1="360.49" y1="1939.79" x2="360.49" y2="2267.24" stroke="#102040" stroke-width="2.6" />
<line x1="1873.84" y1="1939.79" x2="1873.84" y2="2267.24" stroke="#401010" stroke-width="2.6" />
<line x1="259.6" y1="2485.55" x2="864.94" y2="2485.55" stroke="#3a3a3a" stroke-width="2" />
<line x1="1369.39" y1="2485.55" x2="1974.73" y2="2485.55" stroke="#3a3a3a" stroke-width="2" />
<line x1="259.6" y1="2813" x2="864.94" y2="2813" stroke="#3a3a3a" stroke-width="2" />
<line x1="1369.39" y1="2813" x2="1974.73" y2="2813" stroke="#3a3a3a" stroke-width="2" />
<line x1="360.49" y1="2485.55" x2="360.49" y2="2813" stroke="#102040" stroke-width="2.6" />
<line x1="1873.84" y1="2485.55" x2="1873.84" y2="2813" stroke="#401010" stroke-width="2.6" />
<rect x="864.94" y="1230.3" width="504.45" height="1746.43" fill="none" stroke="rgba(0,0,0,0.78)" stroke-width="2.2"/>
<line x1="260.3" y1="1209" x2="260.3" y2="2978" stroke="#a0a0a0" stroke-width="2.2" />
<line x1="1975" y1="1209" x2="1975" y2="2978" stroke="#a0a0a0" stroke-width="2.2" />
<line x1="259" y1="2977.3" x2="1976" y2="2977.3" stroke="#a0a0a0" stroke-width="2.6" />
<line x1="221.8" y1="1230.3" x2="260" y2="1230.3" stroke="#858585" stroke-width="3.4" />
<line x1="240" y1="1298.52" x2="260" y2="1298.52" stroke="#9a9a9a" stroke-width="2.8" />
<line x1="240" y1="1366.74" x2="260" y2="1366.74" stroke="#9a9a9a" stroke-width="2.8" />
<line x1="240" y1="1434.96" x2="260" y2="1434.96" stroke="#9a9a9a" stroke-width="2.8" />
<line x1="221.8" y1="1503.18" x2="260" y2="1503.18" stroke="#858585" stroke-width="3.4" />
<line x1="240" y1="1571.4" x2="260" y2="1571.4" stroke="#9a9a9a" stroke-width="2.8" />
<line x1="240" y1="1639.62" x2="260" y2="1639.62" stroke="#9a9a9a" stroke-width="2.8" />
<line x1="240" y1="1707.84" x2="260" y2="1707.84" stroke="#9a9a9a" stroke-width="2.8" />
<line x1="221.8" y1="1776.06" x2="260" y2="1776.06" stroke="#858585" stroke-width="3.4" />
<line x1="240" y1="1844.28" x2="260" y2="1844.28" stroke="#9a9a9a" stroke-width="2.8" />
<line x1="240" y1="1912.5" x2="260" y2="1912.5" stroke="#9a9a9a" stroke-width="2.8" />
<line x1="240" y1="1980.72" x2="260" y2="1980.72" stroke="#9a9a9a" stroke-width="2.8" />
<line x1="221.8" y1="2048.94" x2="260" y2="2048.94" stroke="#858585" stroke-width="3.4" />
<line x1="240" y1="2117.16" x2="260" y2="2117.16" stroke="#9a9a9a" stroke-width="2.8" />
<line x1="240" y1="2185.38" x2="260" y2="2185.38" stroke="#9a9a9a" stroke-width="2.8" />
<line x1="240" y1="2253.6" x2="260" y2="2253.6" stroke="#9a9a9a" stroke-width="2.8" />
<line x1="221.8" y1="2321.82" x2="260" y2="2321.82" stroke="#858585" stroke-width="3.4" />
<line x1="240" y1="2390.04" x2="260" y2="2390.04" stroke="#9a9a9a" stroke-width="2.8" />
<line x1="240" y1="2458.26" x2="260" y2="2458.26" stroke="#9a9a9a" stroke-width="2.8" />
<line x1="240" y1="2526.48" x2="260" y2="2526.48" stroke="#9a9a9a" stroke-width="2.8" />
<line x1="221.8" y1="2594.7" x2="260" y2="2594.7" stroke="#858585" stroke-width="3.4" />
<line x1="240" y1="2662.92" x2="260" y2="2662.92" stroke="#9a9a9a" stroke-width="2.8" />
<line x1="240" y1="2731.14" x2="260" y2="2731.14" stroke="#9a9a9a" stroke-width="2.8" />
<line x1="240" y1="2799.36" x2="260" y2="2799.36" stroke="#9a9a9a" stroke-width="2.8" />
<line x1="221.8" y1="2867.58" x2="260" y2="2867.58" stroke="#858585" stroke-width="3.4" />
<line x1="240" y1="2935.8" x2="260" y2="2935.8" stroke="#9a9a9a" stroke-width="2.8" />
<line x1="259.6" y1="2977" x2="259.6" y2="3004" stroke="#858585" stroke-width="3.4" />
<line x1="322.66" y1="2977" x2="322.66" y2="2990.5" stroke="#9a9a9a" stroke-width="2.8" />
<line x1="385.71" y1="2977" x2="385.71" y2="2990.5" stroke="#9a9a9a" stroke-width="2.8" />
<line x1="448.77" y1="2977" x2="448.77" y2="2990.5" stroke="#9a9a9a" stroke-width="2.8" />
<line x1="511.83" y1="2977" x2="511.83" y2="3004" stroke="#858585" stroke-width="3.4" />
<line x1="574.88" y1="2977" x2="574.88" y2="2990.5" stroke="#9a9a9a" stroke-width="2.8" />
<line x1="637.94" y1="2977" x2="637.94" y2="2990.5" stroke="#9a9a9a" stroke-width="2.8" />
<line x1="700.99" y1="2977" x2="700.99" y2="2990.5" stroke="#9a9a9a" stroke-width="2.8" />
<line x1="764.05" y1="2977" x2="764.05" y2="3004" stroke="#858585" stroke-width="3.4" />
<line x1="827.11" y1="2977" x2="827.11" y2="2990.5" stroke="#9a9a9a" stroke-width="2.8" />
<line x1="890.16" y1="2977" x2="890.16" y2="2990.5" stroke="#9a9a9a" stroke-width="2.8" />
<line x1="953.22" y1="2977" x2="953.22" y2="2990.5" stroke="#9a9a9a" stroke-width="2.8" />
<line x1="1016.27" y1="2977" x2="1016.27" y2="3004" stroke="#858585" stroke-width="3.4" />
<line x1="1079.33" y1="2977" x2="1079.33" y2="2990.5" stroke="#9a9a9a" stroke-width="2.8" />
<line x1="1142.39" y1="2977" x2="1142.39" y2="2990.5" stroke="#9a9a9a" stroke-width="2.8" />
<line x1="1205.44" y1="2977" x2="1205.44" y2="2990.5" stroke="#9a9a9a" stroke-width="2.8" />
<line x1="1268.5" y1="2977" x2="1268.5" y2="3004" stroke="#858585" stroke-width="3.4" />
<line x1="1331.56" y1="2977" x2="1331.56" y2="2990.5" stroke="#9a9a9a" stroke-width="2.8" />
<line x1="1394.61" y1="2977" x2="1394.61" y2="2990.5" stroke="#9a9a9a" stroke-width="2.8" />
<line x1="1457.67" y1="2977" x2="1457.67" y2="2990.5" stroke="#9a9a9a" stroke-width="2.8" />
<line x1="1520.72" y1="2977" x2="1520.72" y2="3004" stroke="#858585" stroke-width="3.4" />
<line x1="1583.78" y1="2977" x2="1583.78" y2="2990.5" stroke="#9a9a9a" stroke-width="2.8" />
<line x1="1646.84" y1="2977" x2="1646.84" y2="2990.5" stroke="#9a9a9a" stroke-width="2.8" />
<line x1="1709.89" y1="2977" x2="1709.89" y2="2990.5" stroke="#9a9a9a" stroke-width="2.8" />
<line x1="1772.95" y1="2977" x2="1772.95" y2="3004" stroke="#858585" stroke-width="3.4" />
<line x1="1836.01" y1="2977" x2="1836.01" y2="2990.5" stroke="#9a9a9a" stroke-width="2.8" />
<line x1="1899.06" y1="2977" x2="1899.06" y2="2990.5" stroke="#9a9a9a" stroke-width="2.8" />
<line x1="1962.12" y1="2977" x2="1962.12" y2="2990.5" stroke="#9a9a9a" stroke-width="2.8" />
<text x="167.51" y="1267.9" font-size="89" font-family="'Liberation Serif', 'Times New Roman', serif" font-weight="normal" textLength="44.48" lengthAdjust="spacingAndGlyphs">0</text>
<text x="167.74" y="1536" font-size="89" font-family="'Liberation Serif', 'Times New Roman', serif" font-weight="normal" textLength="40.96" lengthAdjust="spacingAndGlyphs">5</text>
<text x="126.5" y="1806.3" font-size="89" font-family="'Liberation Serif', 'Times New Roman', serif" font-weight="normal" textLength="85.35" lengthAdjust="spacingAndGlyphs">10</text>
<text x="126.8" y="2082.3" font-size="89" font-family="'Liberation Serif', 'Times New Roman', serif" font-weight="normal" textLength="81.9" lengthAdjust="spacingAndGlyphs">15</text>
<text x="122.26" y="2356.5" font-size="89" font-family="'Liberation Serif', 'Times New Roman', serif" font-weight="normal" textLength="89.76" lengthAdjust="spacingAndGlyphs">20</text>
<text x="122.4" y="2626.2" font-size="89" font-family="'Liberation Serif', 'Times New Roman', serif" font-weight="normal" textLength="86.48" lengthAdjust="spacingAndGlyphs">25</text>
<text x="124.19" y="2893.8" font-size="89" font-family="'Liberation Serif', 'Times New Roman', serif" font-weight="normal" textLength="88.07" lengthAdjust="spacingAndGlyphs">30</text>
<text x="240.14" y="3069.6" font-size="89" font-family="'Liberation Serif', 'Times New Roman', serif" font-weight="normal" textLength="44.12" lengthAdjust="spacingAndGlyphs">0</text>
<text x="481.8" y="3069.6" font-size="89" font-family="'Liberation Serif', 'Times New Roman', serif" font-weight="normal" textLength="42.2" lengthAdjust="spacingAndGlyphs">5</text>
<text x="723.93" y="3069.6" font-size="89" font-family="'Liberation Serif', 'Times New Roman', serif" font-weight="normal" textLength="86.15" lengthAdjust="spacingAndGlyphs">10</text>
<text x="964.92" y="3069.6" font-size="89" font-family="'Liberation Serif', 'Times New Roman', serif" font-weight="normal" textLength="81.67" lengthAdjust="spacingAndGlyphs">15</text>
<text x="1225.23" y="3069.6" font-size="89" font-family="'Liberation Serif', 'Times New Roman', serif" font-weight="normal" textLength="88.13" lengthAdjust="spacingAndGlyphs">20</text>
<text x="1464.41" y="3069.6" font-size="89" font-family="'Liberation Serif', 'Times New Roman', serif" font-weight="normal" textLength="86.26" lengthAdjust="spacingAndGlyphs">25</text>
<text x="1727.62" y="3069.6" font-size="89" font-family="'Liberation Serif', 'Times New Roman', serif" font-weight="normal" textLength="89.38" lengthAdjust="spacingAndGlyphs">30</text>
<text x="477.31" y="2962.5" font-size="100.5" font-family="'Liberation Serif', 'Times New Roman', serif" font-weight="normal" textLength="277.66" lengthAdjust="spacingAndGlyphs">Source</text>
<text x="933.92" y="2962.5" font-size="100.5" font-family="'Liberation Serif', 'Times New Roman', serif" font-weight="normal" textLength="331.57" lengthAdjust="spacingAndGlyphs">Channel</text>
<text x="1567.6" y="2962.5" font-size="100.5" font-family="'Liberation Serif', 'Times New Roman', serif" font-weight="normal" textLength="229.43" lengthAdjust="spacingAndGlyphs">Drain</text>
<text x="557.67" y="3148.5" font-size="99.5" font-family="'Liberation Serif', 'Times New Roman', serif" font-weight="normal" textLength="1068.16" lengthAdjust="spacingAndGlyphs">Distance along x-axis (nm)</text>
<text transform="translate(99,2526.84) rotate(-90)" x="0" y="0" font-size="100" font-family="'Liberation Serif', 'Times New Roman', serif" textLength="1065.17" lengthAdjust="spacingAndGlyphs">Distance along z-axis (nm)</text>
<text x="1201" y="3266" font-size="87" text-anchor="middle" font-family="'Liberation Serif', 'Times New Roman', serif">(<tspan font-weight="bold">b</tspan>)</text>
<rect x="2080.5" y="1833.7" width="87" height="18.97" fill="#ff2200" />
<rect x="2080.5" y="1852.17" width="87" height="18.97" fill="#ff5500" />
<rect x="2080.5" y="1870.64" width="87" height="18.97" fill="#ff8000" />
<rect x="2080.5" y="1889.11" width="87" height="18.97" fill="#ffaa00" />
<rect x="2080.5" y="1907.58" width="87" height="18.97" fill="#ffdd00" />
<rect x="2080.5" y="1926.05" width="87" height="18.97" fill="#f0ff00" />
<rect x="2080.5" y="1944.52" width="87" height="18.97" fill="#b4ff00" />
<rect x="2080.5" y="1962.99" width="87" height="18.97" fill="#55ff00" />
<rect x="2080.5" y="1981.46" width="87" height="18.97" fill="#00ff00" />
<rect x="2080.5" y="1999.93" width="87" height="18.97" fill="#00f500" />
<rect x="2080.5" y="2018.4" width="87" height="18.97" fill="#00f500" />
<rect x="2080.5" y="2036.87" width="87" height="18.97" fill="#00f500" />
<rect x="2080.5" y="2055.34" width="87" height="18.97" fill="#00f500" />
<rect x="2080.5" y="2073.81" width="87" height="18.97" fill="#00ff44" />
<rect x="2080.5" y="2092.28" width="87" height="18.97" fill="#00ff88" />
<rect x="2080.5" y="2110.75" width="87" height="18.97" fill="#00ffbb" />
<rect x="2080.5" y="2129.22" width="87" height="18.97" fill="#00ffee" />
<rect x="2080.5" y="2147.69" width="87" height="18.97" fill="#00e5ff" />
<rect x="2080.5" y="2166.16" width="87" height="18.97" fill="#00bbff" />
<rect x="2080.5" y="2184.63" width="87" height="18.97" fill="#0088ff" />
<rect x="2080.5" y="2203.1" width="87" height="18.97" fill="#0055ff" />
<rect x="2080.5" y="2221.57" width="87" height="18.97" fill="#0022ff" />
<rect x="2080.5" y="2240.04" width="87" height="18.97" fill="#0000ff" />
<rect x="2080.5" y="2258.51" width="87" height="18.97" fill="#2200ff" />
<rect x="2080.5" y="2276.98" width="87" height="18.97" fill="#5500ff" />
<rect x="2080.5" y="2295.45" width="87" height="18.97" fill="#8800ff" />
<rect x="2080.5" y="2313.92" width="87" height="18.97" fill="#cc00ff" />
<rect x="2080.5" y="2332.39" width="87" height="18.97" fill="#ff00ff" />
<rect x="2080.5" y="2350.86" width="87" height="18.97" fill="#ff00ff" />
<line x1="2080.5" y1="1852.17" x2="2167.5" y2="1852.17" stroke="rgba(0,0,0,0.45)" stroke-width="2" />
<line x1="2080.5" y1="1870.64" x2="2167.5" y2="1870.64" stroke="rgba(0,0,0,0.45)" stroke-width="2" />
<line x1="2080.5" y1="1889.11" x2="2167.5" y2="1889.11" stroke="rgba(0,0,0,0.45)" stroke-width="2" />
<line x1="2080.5" y1="1907.58" x2="2167.5" y2="1907.58" stroke="rgba(0,0,0,0.45)" stroke-width="2" />
<line x1="2080.5" y1="1926.05" x2="2167.5" y2="1926.05" stroke="rgba(0,0,0,0.45)" stroke-width="2" />
<line x1="2080.5" y1="1944.52" x2="2167.5" y2="1944.52" stroke="rgba(0,0,0,0.45)" stroke-width="2" />
<line x1="2080.5" y1="1962.99" x2="2167.5" y2="1962.99" stroke="rgba(0,0,0,0.45)" stroke-width="2" />
<line x1="2080.5" y1="1981.46" x2="2167.5" y2="1981.46" stroke="rgba(0,0,0,0.45)" stroke-width="2" />
<line x1="2080.5" y1="1999.93" x2="2167.5" y2="1999.93" stroke="rgba(0,0,0,0.45)" stroke-width="2" />
<line x1="2080.5" y1="2018.4" x2="2167.5" y2="2018.4" stroke="rgba(0,0,0,0.45)" stroke-width="2" />
<line x1="2080.5" y1="2036.87" x2="2167.5" y2="2036.87" stroke="rgba(0,0,0,0.45)" stroke-width="2" />
<line x1="2080.5" y1="2055.34" x2="2167.5" y2="2055.34" stroke="rgba(0,0,0,0.45)" stroke-width="2" />
<line x1="2080.5" y1="2073.81" x2="2167.5" y2="2073.81" stroke="rgba(0,0,0,0.45)" stroke-width="2" />
<line x1="2080.5" y1="2092.28" x2="2167.5" y2="2092.28" stroke="rgba(0,0,0,0.45)" stroke-width="2" />
<line x1="2080.5" y1="2110.75" x2="2167.5" y2="2110.75" stroke="rgba(0,0,0,0.45)" stroke-width="2" />
<line x1="2080.5" y1="2129.22" x2="2167.5" y2="2129.22" stroke="rgba(0,0,0,0.45)" stroke-width="2" />
<line x1="2080.5" y1="2147.69" x2="2167.5" y2="2147.69" stroke="rgba(0,0,0,0.45)" stroke-width="2" />
<line x1="2080.5" y1="2166.16" x2="2167.5" y2="2166.16" stroke="rgba(0,0,0,0.45)" stroke-width="2" />
<line x1="2080.5" y1="2184.63" x2="2167.5" y2="2184.63" stroke="rgba(0,0,0,0.45)" stroke-width="2" />
<line x1="2080.5" y1="2203.1" x2="2167.5" y2="2203.1" stroke="rgba(0,0,0,0.45)" stroke-width="2" />
<line x1="2080.5" y1="2221.57" x2="2167.5" y2="2221.57" stroke="rgba(0,0,0,0.45)" stroke-width="2" />
<line x1="2080.5" y1="2240.04" x2="2167.5" y2="2240.04" stroke="rgba(0,0,0,0.45)" stroke-width="2" />
<line x1="2080.5" y1="2258.51" x2="2167.5" y2="2258.51" stroke="rgba(0,0,0,0.45)" stroke-width="2" />
<line x1="2080.5" y1="2276.98" x2="2167.5" y2="2276.98" stroke="rgba(0,0,0,0.45)" stroke-width="2" />
<line x1="2080.5" y1="2295.45" x2="2167.5" y2="2295.45" stroke="rgba(0,0,0,0.45)" stroke-width="2" />
<line x1="2080.5" y1="2313.92" x2="2167.5" y2="2313.92" stroke="rgba(0,0,0,0.45)" stroke-width="2" />
<line x1="2080.5" y1="2332.39" x2="2167.5" y2="2332.39" stroke="rgba(0,0,0,0.45)" stroke-width="2" />
<line x1="2080.5" y1="2350.86" x2="2167.5" y2="2350.86" stroke="rgba(0,0,0,0.45)" stroke-width="2" />
<rect x="2080.5" y="1833.7" width="87" height="535.63" fill="none" stroke="rgba(0,0,0,0.3)" stroke-width="1.2"/>
<text x="2177.59" y="1893.1" font-size="40.5" font-family="'DejaVu Sans', 'Liberation Sans', sans-serif" font-weight="normal" textLength="79.28" lengthAdjust="spacingAndGlyphs">1.20</text>
<text x="2177.55" y="1952.9" font-size="40.5" font-family="'DejaVu Sans', 'Liberation Sans', sans-serif" font-weight="normal" textLength="80.1" lengthAdjust="spacingAndGlyphs">1.05</text>
<text x="2179.2" y="2012.4" font-size="40.5" font-family="'DejaVu Sans', 'Liberation Sans', sans-serif" font-weight="normal" textLength="77.61" lengthAdjust="spacingAndGlyphs">0.90</text>
<text x="2179.18" y="2071.2" font-size="40.5" font-family="'DejaVu Sans', 'Liberation Sans', sans-serif" font-weight="normal" textLength="78.4" lengthAdjust="spacingAndGlyphs">0.75</text>
<text x="2179.2" y="2130.4" font-size="40.5" font-family="'DejaVu Sans', 'Liberation Sans', sans-serif" font-weight="normal" textLength="77.61" lengthAdjust="spacingAndGlyphs">0.60</text>
<text x="2179.18" y="2190.5" font-size="40.5" font-family="'DejaVu Sans', 'Liberation Sans', sans-serif" font-weight="normal" textLength="78.4" lengthAdjust="spacingAndGlyphs">0.45</text>
<text x="2179.2" y="2249" font-size="40.5" font-family="'DejaVu Sans', 'Liberation Sans', sans-serif" font-weight="normal" textLength="77.61" lengthAdjust="spacingAndGlyphs">0.30</text>
<text x="2179.18" y="2308.4" font-size="40.5" font-family="'DejaVu Sans', 'Liberation Sans', sans-serif" font-weight="normal" textLength="78.4" lengthAdjust="spacingAndGlyphs">0.15</text>
<text x="2179.2" y="2367.6" font-size="40.5" font-family="'DejaVu Sans', 'Liberation Sans', sans-serif" font-weight="normal" textLength="77.61" lengthAdjust="spacingAndGlyphs">0.00</text>
<text x="2079.03" y="1813.2" font-size="40.9" font-family="'DejaVu Sans', 'Liberation Sans', sans-serif" font-weight="normal" textLength="219" lengthAdjust="spacingAndGlyphs">Potential (V)</text>
</svg>
</body></html>
